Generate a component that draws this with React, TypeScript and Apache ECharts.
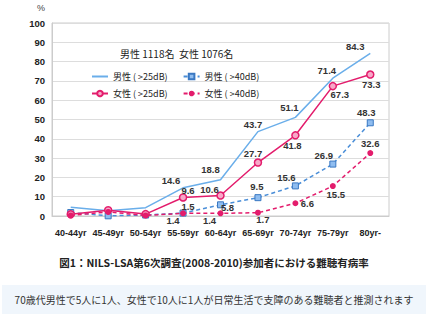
import React, { useEffect, useRef } from "react";
import * as echarts from "echarts";

const categories = ["40-44yr", "45-49yr", "50-54yr", "55-59yr", "60-64yr", "65-69yr", "70-74yr", "75-79yr", "80yr-"];
const male25 = [4.5, 2.7, 4.3, 14.6, 18.8, 43.7, 51.1, 71.4, 84.3];
const male40 = [1.8, 0.1, 0.5, 1.5, 5.8, 9.5, 15.6, 26.9, 48.3];
const female25 = [0.9, 3.0, 1.0, 9.6, 10.6, 27.7, 41.8, 67.3, 73.3];
const female40 = [0.3, 2.1, 0.3, 1.4, 1.4, 1.7, 6.6, 15.5, 32.6];
const yTicks = [0, 10, 20, 30, 40, 50, 60, 70, 80, 90, 100];
const firstLabeled = 3;

const FONT = "'Noto Sans CJK JP', 'Noto Sans', sans-serif";
const NUMFONT = "'Liberation Sans', Arial, sans-serif";
const BLUE_LIGHT = "#6aaeea";
const BLUE = "#4a8ed8";
const PINK = "#e31c6c";

// label offsets (label centre relative to point), style only
const offMale25: number[][] = [[0, 0], [0, 0], [0, 0], [-12, -7], [-10, -10], [-5, -7], [-6, -10], [-6, -8], [-15, -7]];
const offFemale25: number[][] = [[0, 0], [0, 0], [0, 0], [5, -7], [-11, -6], [-5, -9], [-3, 10], [7, 8], [1, 10]];
const offMale40: number[][] = [[0, 0], [0, 0], [0, 0], [5, -7], [7, 3], [-1, -11], [-9, -8], [-9, -9], [-4, -10]];
const offFemale40: number[][] = [[0, 0], [0, 0], [0, 0], [-10, 7], [-11, 7], [5, 7], [12, 0], [3, 8], [0, -10]];

function build(values: number[], off: number[][]) {
  return values.map((v, i) => ({
    value: v,
    label: {
      show: i >= firstLabeled,
      position: "inside",
      offset: off[i],
    },
  }));
}

export default function App() {
  const ref = useRef<HTMLDivElement>(null);
  useEffect(() => {
    document.body.style.margin = "0";
    const chart = echarts.init(ref.current!, null, { renderer: "svg" });
    const labelStyle = {
      fontFamily: NUMFONT,
      fontSize: 9.5,
      fontWeight: "bold" as const,
      color: "#333",
      formatter: (p: any) => String(p.value),
    };
    const legendText = { fontFamily: FONT, fontSize: 9, color: "#222" };
    chart.setOption({
      animation: false,
      backgroundColor: "#ffffff",
      textStyle: { fontFamily: FONT },
      grid: {
        left: 52,
        right: 39,
        top: 23,
        bottom: 98,
        show: true,
        borderColor: "#cccccc",
        borderWidth: 1,
      },
      legend: [
        {
          data: ["男性 ( >25dB)", "男性 ( >40dB)"],
          left: 86,
          top: 67,
          itemWidth: 16,
          itemHeight: 7,
          itemGap: 15,
          textStyle: legendText,
        },
        {
          data: ["女性 ( >25dB)", "女性 ( >40dB)"],
          left: 86,
          top: 84,
          itemWidth: 16,
          itemHeight: 7,
          itemGap: 15,
          textStyle: legendText,
        },
      ],
      graphic: [
        {
          type: "text",
          left: 37,
          top: 3,
          style: { text: "%", fontFamily: NUMFONT, fontSize: 9, fill: "#444" },
        },
        {
          type: "text",
          left: 120,
          top: 48,
          style: { text: "男性 1118名  女性 1076名", fontFamily: FONT, fontSize: 10, fill: "#222" },
        },
        {
          type: "text",
          left: "center",
          top: 257,
          style: {
            text: "図1：NILS-LSA第6次調査(2008-2010)参加者における難聴有病率",
            fontFamily: FONT,
            fontSize: 10.5,
            fontWeight: "bold",
            fill: "#222",
          },
        },
        {
          type: "rect",
          shape: { x: 2, y: 285, width: 424, height: 29 },
          style: { fill: "#f0f6fc" },
        },
        {
          type: "text",
          left: "center",
          top: 294,
          style: {
            text: "70歳代男性で5人に1人、女性で10人に1人が日常生活で支障のある難聴者と推測されます",
            fontFamily: FONT,
            fontSize: 10,
            fill: "#333",
          },
        },
      ],
      xAxis: {
        type: "category",
        data: categories,
        boundaryGap: true,
        axisLine: { lineStyle: { color: "#cccccc" } },
        axisTick: { show: false },
        axisLabel: {
          fontFamily: NUMFONT,
          fontSize: 9,
          fontWeight: "bold",
          color: "#222",
          margin: 12,
          interval: 0,
        },
      },
      yAxis: {
        type: "value",
        min: yTicks[0],
        max: yTicks[yTicks.length - 1],
        interval: 10,
        axisLine: { show: true, lineStyle: { color: "#cccccc" } },
        axisTick: { show: false },
        splitLine: { lineStyle: { color: "#dddddd" } },
        axisLabel: {
          fontFamily: NUMFONT,
          fontSize: 9.5,
          fontWeight: "bold",
          color: "#222",
          margin: 7,
        },
      },
      series: [
        {
          name: "男性 ( >25dB)",
          type: "line",
          data: build(male25, offMale25),
          symbol: "circle",
          symbolSize: 2,
          lineStyle: { color: BLUE_LIGHT, width: 1.5 },
          itemStyle: { color: "rgba(0,0,0,0)", borderWidth: 0 },
          label: labelStyle,
          z: 2,
        },
        {
          name: "男性 ( >40dB)",
          type: "line",
          data: build(male40, offMale40),
          symbol: "rect",
          symbolSize: 6,
          lineStyle: { color: BLUE, width: 1.5, type: [4, 3] },
          itemStyle: { color: "#8fbdf0", borderColor: "#3a78c2", borderWidth: 1 },
          label: labelStyle,
          z: 3,
        },
        {
          name: "女性 ( >25dB)",
          type: "line",
          data: build(female25, offFemale25),
          symbol: "circle",
          symbolSize: 7,
          lineStyle: { color: PINK, width: 1.5 },
          itemStyle: { color: "#f7a8c8", borderColor: PINK, borderWidth: 1.5 },
          label: labelStyle,
          z: 4,
        },
        {
          name: "女性 ( >40dB)",
          type: "line",
          data: build(female40, offFemale40),
          symbol: "circle",
          symbolSize: 6,
          lineStyle: { color: PINK, width: 1.5, type: [4, 3] },
          itemStyle: { color: PINK },
          label: labelStyle,
          z: 5,
        },
      ],
    });
    return () => chart.dispose();
  }, []);
  return <div ref={ref} style={{ width: 428, height: 314 }} />;
}
